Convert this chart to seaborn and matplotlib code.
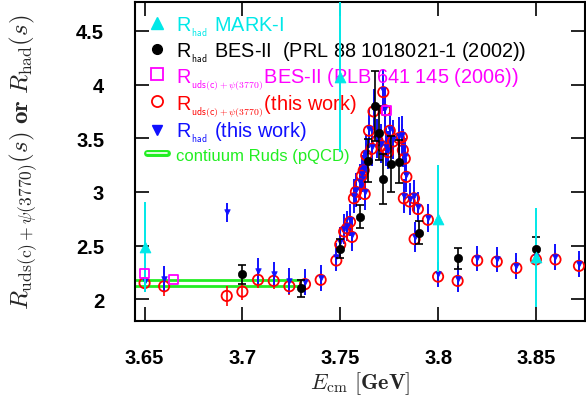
import numpy as np
import pandas as pd
import matplotlib
matplotlib.use("Agg")
import matplotlib.pyplot as plt
import matplotlib.patheffects as pe
from matplotlib.lines import Line2D
import seaborn as sns

# R_had MARK-I
mark_E = [3.650, 3.750, 3.800, 3.850]
mark_R = [2.49, 4.07, 2.75, 2.39]
mark_err = [0.42, 0.70, 0.50, 0.46]

# R_had BES-II (PRL 88 (2002))
bes02_E = [3.700, 3.730, 3.750, 3.760, 3.764, 3.768, 3.770, 3.772, 3.776, 3.780, 3.790, 3.810, 3.850]
bes02_R = [2.23, 2.10, 2.47, 2.77, 3.29, 3.80, 3.55, 3.12, 3.26, 3.28, 2.62, 2.38, 2.47]
bes02_err = [0.085, 0.08, 0.09, 0.11, 0.20, 0.33, 0.25, 0.23, 0.26, 0.20, 0.11, 0.10, 0.11]

# R_uds(c)+psi(3770) BES-II (PLB 641 (2006))
bes06_E = [3.650, 3.6647, 3.7735]
bes06_R = [2.24, 2.18, 3.76]

# this work: energies, R_uds(c)+psi(3770) and R_had
this_E = [3.650, 3.660, 3.692, 3.700, 3.708, 3.716, 3.724, 3.732, 3.740, 3.748,
          3.750, 3.752, 3.7535, 3.755, 3.756, 3.757, 3.758, 3.760, 3.761, 3.762,
          3.7625, 3.7633, 3.7647, 3.766, 3.767, 3.769, 3.771, 3.772, 3.773, 3.7736,
          3.7744, 3.7753, 3.777, 3.780, 3.7815, 3.782, 3.7825, 3.783, 3.7838, 3.7855,
          3.7877, 3.788, 3.7897, 3.7948, 3.800, 3.810, 3.820, 3.830, 3.840, 3.850,
          3.860, 3.872]
uds_R = [2.15, 2.12, 2.03, 2.07, 2.18, 2.17, 2.12, 2.14, 2.18, 2.36,
         2.51, 2.63, 2.66, 2.72, 2.58, 2.94, 3.00, 3.07, 3.15, 3.20,
         2.98, 3.34, 3.57, 3.40, 3.75, 3.48, 3.43, 3.93, 3.76, 3.40,
         3.37, 3.57, 3.47, 3.50, 3.51, 3.39, 2.94, 3.31, 3.14, 2.91,
         2.94, 2.56, 2.84, 2.74, 2.21, 2.17, 2.36, 2.35, 2.29, 2.37,
         2.37, 2.31]
uds_err = [0.08, 0.09, 0.09, 0.08, 0.08, 0.08, 0.08, 0.08, 0.08, 0.09,
           0.09, 0.09, 0.09, 0.10, 0.10, 0.10, 0.10, 0.11, 0.11, 0.11,
           0.11, 0.12, 0.12, 0.12, 0.13, 0.12, 0.12, 0.13, 0.13, 0.12,
           0.12, 0.12, 0.12, 0.12, 0.12, 0.12, 0.11, 0.12, 0.11, 0.11,
           0.11, 0.10, 0.10, 0.10, 0.09, 0.09, 0.09, 0.09, 0.09, 0.09,
           0.09, 0.09]
had_R = [2.17, 2.19, 2.81, np.nan, 2.26, 2.23, 2.17, 2.16, 2.20, 2.39,
         2.53, 2.65, 2.68, 2.74, 2.60, 2.96, 3.02, 3.09, 3.17, 3.22,
         3.00, 3.36, 3.59, 3.42, 3.77, 3.50, 3.45, 3.95, 3.78, 3.42,
         3.39, 3.59, 3.49, 3.52, 3.53, 3.41, 2.96, 3.33, 3.16, 2.93,
         2.96, 2.58, 2.86, 2.76, 2.23, 2.19, 2.38, 2.37, 2.31, 2.39,
         2.39, 2.33]
had_err = [0.10, 0.12, 0.09, np.nan, 0.12, 0.12, 0.12, 0.12, 0.12, 0.13,
           0.14, 0.14, 0.14, 0.15, 0.15, 0.16, 0.16, 0.17, 0.17, 0.17,
           0.17, 0.18, 0.18, 0.18, 0.19, 0.18, 0.18, 0.20, 0.19, 0.18,
           0.18, 0.18, 0.18, 0.18, 0.18, 0.18, 0.16, 0.17, 0.16, 0.15,
           0.15, 0.14, 0.14, 0.13, 0.12, 0.12, 0.12, 0.12, 0.12, 0.12,
           0.12, 0.12]

# continuum Ruds (pQCD) band
cont_E = [3.645, 3.730]
cont_lo = [2.12, 2.12]
cont_hi = [2.18, 2.18]

CYAN = "#00e8e8"
MAGENTA = "#ff00ff"
RED = "#ff0000"
BLUE = "#1010ff"
GREEN = "#22ee22"

sns.set_style("ticks")
plt.rcParams["font.family"] = ["Liberation Sans", "DejaVu Sans"]
plt.rcParams["mathtext.fontset"] = "cm"

fig = plt.figure(figsize=(5.86, 4.02), dpi=100)
ax = fig.add_axes([0.230, 0.200, 0.768, 0.7925])

# continuum lines
sns.lineplot(x=cont_E, y=cont_lo, color=GREEN, lw=2, ax=ax, zorder=1)
sns.lineplot(x=cont_E, y=cont_hi, color=GREEN, lw=2, ax=ax, zorder=1)

# this work
ax.errorbar(this_E, uds_R, yerr=uds_err, fmt="none", ecolor=RED, elinewidth=1.2, zorder=2)
ax.errorbar(this_E, had_R, yerr=had_err, fmt="none", ecolor=BLUE, elinewidth=1.4, zorder=3)
sns.scatterplot(x=this_E, y=uds_R, marker="o", s=55, facecolor="none", edgecolor=RED,
                linewidth=1.3, ax=ax, zorder=4)
sns.scatterplot(x=this_E, y=had_R, marker="v", s=16, color=BLUE, edgecolor=BLUE,
                linewidth=0.5, ax=ax, zorder=5)

# BES-II 2002
ax.errorbar(bes02_E, bes02_R, yerr=bes02_err, fmt="none", ecolor="black", elinewidth=1.2,
            capsize=3, capthick=1.2, zorder=6)
sns.scatterplot(x=bes02_E, y=bes02_R, marker="o", s=36, color="black", edgecolor="black",
                ax=ax, zorder=7)

# MARK-I
ax.errorbar(mark_E, mark_R, yerr=mark_err, fmt="none", ecolor=CYAN, elinewidth=1.4, zorder=6)
sns.scatterplot(x=mark_E, y=mark_R, marker="^", s=60, color=CYAN, edgecolor=CYAN,
                ax=ax, zorder=7)

# BES-II 2006
sns.scatterplot(x=bes06_E, y=bes06_R, marker="s", s=45, facecolor="none", edgecolor=MAGENTA,
                linewidth=1.3, ax=ax, zorder=8)

ax.set_xlim(3.645, 3.875)
ax.set_ylim(1.80, 4.77)
ax.set_xticks([3.65, 3.70, 3.75, 3.80, 3.85])
ax.set_xticklabels(["3.65", "3.7", "3.75", "3.8", "3.85"])
ax.set_yticks([2, 2.5, 3, 3.5, 4, 4.5])
ax.set_yticklabels(["2", "2.5", "3", "3.5", "4", "4.5"])
ax.tick_params(direction="in", length=10, width=1.2, top=True, right=True,
               labelsize=14.5, colors="black")
ax.tick_params(axis="x", pad=20)
ax.tick_params(axis="y", pad=22)
for lab in ax.get_xticklabels() + ax.get_yticklabels():
    lab.set_fontweight("bold")
for sp in ax.spines.values():
    sp.set_visible(True)
    sp.set_linewidth(1.5)
    sp.set_color("black")

ax.set_xlabel(r"$E_{\rm cm}\ \mathbf{[GeV]}$", fontsize=16, labelpad=1)
ax.set_ylabel(r"$R_{\rm uds(c)+\psi(3770)}(s)$ $\mathbf{or}$ $R_{\rm had}(s)$",
              fontsize=18, labelpad=26)

# legend
handles = [
    Line2D([], [], ls="none", marker="^", ms=8, color=CYAN),
    Line2D([], [], ls="none", marker="o", ms=7, color="black"),
    Line2D([], [], ls="none", marker="s", ms=8, mfc="none", mec=MAGENTA, mew=1.3),
    Line2D([], [], ls="none", marker="o", ms=8, mfc="none", mec=RED, mew=1.3),
    Line2D([], [], ls="none", marker="v", ms=7, color=BLUE),
    Line2D([], [], color="white", lw=1.2,
           path_effects=[pe.Stroke(linewidth=5, foreground=GREEN), pe.Normal()]),
]
labels = [
    r"R$_{{}_{\mathsf{had}}}$ MARK-I",
    r"R$_{{}_{\mathsf{had}}}$ BES-II  (PRL 88 1018021-1 (2002))",
    r"R$_{{}_{\mathsf{uds(c)+\psi(3770)}}}$BES-II (PLB 641 145 (2006))",
    r"R$_{{}_{\mathsf{uds(c)+\psi(3770)}}}$(this work)",
    r"R$_{{}_{\mathsf{had}}}$ (this work)",
    "contiuum Ruds (pQCD)",
]
colors = [CYAN, "black", MAGENTA, RED, BLUE, GREEN]
leg = ax.legend(handles, labels, loc="upper left", frameon=False, fontsize=14.3,
                handlelength=1.0, handletextpad=0.5, labelspacing=0.07,
                borderaxespad=0.1, borderpad=0.5)
for txt, c in zip(leg.get_texts(), colors):
    txt.set_color(c)
leg.get_texts()[-1].set_fontsize(12)

fig.savefig("out.png", dpi=100)
